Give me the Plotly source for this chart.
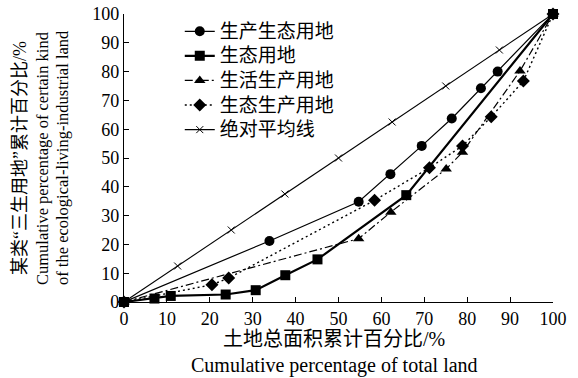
import plotly.graph_objects as go

# Data
x_abs = [0, 12.5, 25, 37.5, 50, 62.5, 75, 87.5, 100]
y_abs = [0, 12.5, 25, 37.5, 50, 62.5, 75, 87.5, 100]

x_prod_eco = [0, 33.9, 54.7, 62.1, 69.4, 76.4, 83.2, 87.1, 100]
y_prod_eco = [0, 21.2, 34.8, 44.4, 54.2, 63.7, 74.2, 80.0, 100]

x_eco = [0, 7.1, 10.9, 23.7, 30.7, 37.6, 45.1, 65.8, 100]
y_eco = [0, 1.2, 2.1, 2.6, 4.1, 9.3, 14.8, 37.1, 100]

x_live_prod = [0, 54.7, 62.2, 75.1, 78.9, 92.3, 100]
y_live_prod = [0, 22.0, 31.2, 46.2, 52.0, 80.2, 100]

x_eco_prod = [0, 20.5, 24.4, 58.4, 71.2, 78.9, 85.6, 93.1, 100]
y_eco_prod = [0, 6.0, 8.3, 35.3, 46.6, 54.2, 64.3, 76.7, 100]

names = ["生产生态用地", "生态用地", "生活生产用地", "生态生产用地", "绝对平均线"]
x_ticks = [0, 10, 20, 30, 40, 50, 60, 70, 80, 90, 100]
y_ticks = [0, 10, 20, 30, 40, 50, 60, 70, 80, 90, 100]

FONT = "Liberation Serif, Times New Roman, Noto Sans CJK SC, serif"


def big(s):
    return '<span style="font-size:19px">' + s + '</span>'


fig = go.Figure()
fig.add_trace(go.Scatter(x=x_prod_eco, y=y_prod_eco, name=big(names[0]), mode="lines+markers",
                         line=dict(color="black", width=1.2),
                         marker=dict(symbol="circle", size=10, color="black"), cliponaxis=False))
fig.add_trace(go.Scatter(x=x_eco, y=y_eco, name=big(names[1]), mode="lines+markers",
                         line=dict(color="black", width=2.2),
                         marker=dict(symbol="square", size=10, color="black"), cliponaxis=False))
fig.add_trace(go.Scatter(x=x_live_prod, y=y_live_prod, name=big(names[2]), mode="lines+markers",
                         line=dict(color="black", width=1.2, dash="8px,3px,2px,3px"),
                         marker=dict(symbol="triangle-up", size=10, color="black"), cliponaxis=False))
fig.add_trace(go.Scatter(x=x_eco_prod, y=y_eco_prod, name=big(names[3]), mode="lines+markers",
                         line=dict(color="black", width=1.4, dash="2px,3px"),
                         marker=dict(symbol="diamond", size=10, color="black"), cliponaxis=False))
fig.add_trace(go.Scatter(x=x_abs, y=y_abs, name=big(names[4]), mode="lines+markers",
                         line=dict(color="black", width=1.1),
                         marker=dict(symbol="x-thin", size=7, color="black",
                                     line=dict(color="black", width=1)), cliponaxis=False))

axis_common = dict(showgrid=False, zeroline=False, showline=True, linecolor="black", linewidth=1.3,
                   ticks="inside", ticklen=5, tickcolor="black", tickwidth=1.2, automargin=False,
                   tickfont=dict(family=FONT, size=18, color="black"), range=[0, 100])
fig.update_xaxes(**axis_common, tickvals=x_ticks)
fig.update_yaxes(**axis_common, tickvals=y_ticks)

annots = [
    dict(text="土地总面积累计百分比/%", x=0.49, y=-0.128, size=20),
    dict(text="Cumulative percentage of total land", x=0.49, y=-0.222, size=20),
    dict(text="某类“三生用地”累计百分比/%", x=-0.2424, y=0.5, textangle=-90, size=18),
    dict(text="Cumulative percentage of certain kind", x=-0.1911, y=0.5, textangle=-90, size=16.5),
    dict(text="of the ecological-living-industrial land", x=-0.1445, y=0.5, textangle=-90, size=16.5),
]
for a in annots:
    fig.add_annotation(xref="paper", yref="paper", showarrow=False, xanchor="center", yanchor="middle",
                       text=a["text"], x=a["x"], y=a["y"], textangle=a.get("textangle", 0),
                       font=dict(family=FONT, color="black", size=a["size"]))

fig.update_layout(
    width=578, height=378,
    margin=dict(l=124, r=25, t=14, b=76),
    paper_bgcolor="white", plot_bgcolor="white",
    legend=dict(x=0.13, y=1.0, xanchor="left", yanchor="top", bgcolor="rgba(0,0,0,0)",
                font=dict(family=FONT, size=16.6, color="black"), tracegroupgap=0),
    showlegend=True,
)

fig.write_html("out.html", config={"displayModeBar": False},
               post_script="document.body.style.margin='0';document.body.style.overflow='hidden';")
